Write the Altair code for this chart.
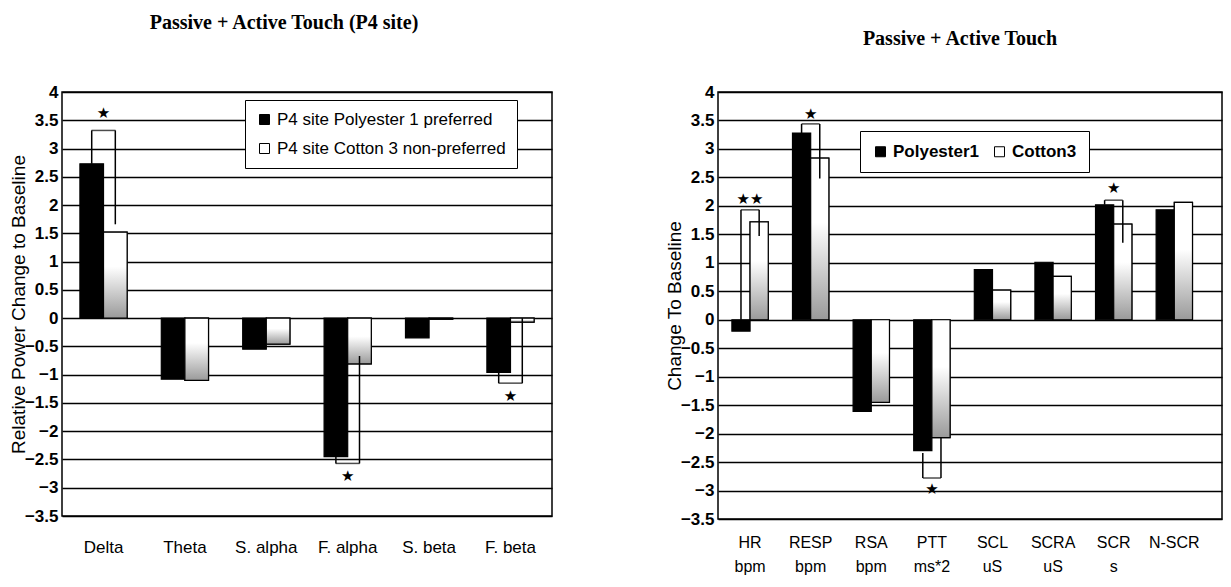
import altair as alt
import pandas as pd

# ---------------- left panel data ----------------
left_title = "Passive + Active Touch (P4 site)"
left_ytitle = "Relative Power Change to Baseline"
left_categories = ["Delta", "Theta", "S. alpha", "F. alpha", "S. beta", "F. beta"]
left_series = ["P4 site Polyester 1 preferred", "P4 site Cotton 3 non-preferred"]
left_polyester = [2.73, -1.08, -0.55, -2.45, -0.35, -0.96]
left_cotton = [1.52, -1.10, -0.46, -0.81, -0.02, -0.07]
left_sig_categories = ["Delta", "F. alpha", "F. beta"]
left_sig_level = [3.32, -2.57, -1.15]
left_sig_poly_end = [2.73, -2.45, -0.96]
left_sig_cotton_end = [1.66, -0.67, 0.0]
left_star_level = [3.62, -2.80, -1.38]
left_star_text = ["★", "★", "★"]

# ---------------- right panel data ----------------
right_title = "Passive + Active Touch"
right_ytitle = "Change To Baseline"
right_names = ["HR", "RESP", "RSA", "PTT", "SCL", "SCRA", "SCR", "N-SCR"]
right_units = ["bpm", "bpm", "bpm", "ms*2", "uS", "uS", "s", ""]
right_series = ["Polyester1", "Cotton3"]
right_polyester = [-0.20, 3.28, -1.61, -2.30, 0.88, 1.01, 2.02, 1.93]
right_cotton = [1.72, 2.84, -1.45, -2.07, 0.52, 0.76, 1.68, 2.06]
right_sig_names = ["HR", "RESP", "PTT", "SCR"]
right_sig_level = [1.93, 3.44, -2.78, 2.10]
right_sig_poly_end = [0.0, 3.28, -2.34, 2.02]
right_sig_cotton_end = [1.47, 2.48, -2.07, 1.35]
right_star_level = [2.12, 3.62, -2.98, 2.32]
right_star_text = ["★★", "★", "★", "★"]

y_ticks = [-3.5, -3, -2.5, -2, -1.5, -1, -0.5, 0, 0.5, 1, 1.5, 2, 2.5, 3, 3.5, 4]

right_categories = [n + ("\n" + u if u else "") for n, u in zip(right_names, right_units)]
right_lookup = dict(zip(right_names, right_categories))
right_sig_categories = [right_lookup[n] for n in right_sig_names]

gradient = {
    "gradient": "linear",
    "x1": 0, "y1": 0, "x2": 0, "y2": 1,
    "stops": [
        {"offset": 0, "color": "#ffffff"},
        {"offset": 0.4, "color": "#ffffff"},
        {"offset": 1, "color": "#9a9a9a"},
    ],
}


def panel(cats, series, poly, cotton, sig_cats, sig_level, sig_poly, sig_cot,
          star_level, star_text, ytitle, title, width, height, xscale, xaxis,
          legend, title_kw, bracket_size):
    n = len(cats)
    bars_df = pd.DataFrame({
        "cat": cats * 2,
        "series": [series[0]] * n + [series[1]] * n,
        "value": poly + cotton,
    })
    sig_long = pd.DataFrame({
        "cat": sig_cats * 2,
        "series": [series[0]] * len(sig_cats) + [series[1]] * len(sig_cats),
        "end": sig_poly + sig_cot,
        "level": sig_level * 2,
    })
    sig_df = pd.DataFrame({"cat": sig_cats, "level": sig_level})
    star_df = pd.DataFrame({"cat": sig_cats, "star": star_level, "text": star_text})

    x = alt.X("cat:N", sort=cats, scale=xscale, axis=xaxis, title=None)
    xo = alt.XOffset("series:N", sort=series, scale=alt.Scale(domain=series))
    yscale = alt.Scale(domain=[-3.5, 4], nice=False, zero=False)
    yaxis = alt.Axis(values=y_ticks, format="~g", grid=True, gridColor="black",
                     gridWidth=1.4, gridOpacity=1, ticks=False, domain=False,
                     labelFont="Liberation Sans", labelFontSize=17,
                     labelFontWeight="bold", labelColor="black", labelPadding=4,
                     titleFont="Liberation Sans", titleFontSize=19,
                     titleFontWeight="normal", titleColor="black", titlePadding=-4)

    def Y(field):
        return alt.Y(field, scale=yscale, axis=yaxis, title=ytitle)

    bars = alt.Chart(bars_df).mark_bar(stroke="black", strokeWidth=1.2).encode(
        x=x, xOffset=xo, y=Y("value:Q"),
        color=alt.Color("series:N", sort=series,
                        scale=alt.Scale(domain=series, range=["black", "white"]),
                        legend=legend),
    )
    overlay = alt.Chart(bars_df[bars_df["series"] == series[1]]).mark_bar(
        fill=gradient, stroke="black", strokeWidth=1.2
    ).encode(x=x, xOffset=xo, y=Y("value:Q"))
    verts = alt.Chart(sig_long).mark_rule(color="black", strokeWidth=1.5).encode(
        x=x, xOffset=xo, y=Y("end:Q"), y2="level:Q")
    horiz = alt.Chart(sig_df).mark_tick(color="black", thickness=1.5,
                                        size=bracket_size, orient="horizontal").encode(
        x=x, y=Y("level:Q"))
    stars = alt.Chart(star_df).mark_text(font="DejaVu Sans", fontSize=15,
                                         baseline="middle", color="black").encode(
        x=x, y=Y("star:Q"), text="text:N")
    return alt.layer(bars, overlay, verts, horiz, stars).properties(
        width=width, height=height,
        title=alt.TitleParams(title, font="Liberation Serif", fontSize=20,
                              fontWeight="bold", color="black", anchor="middle",
                              **title_kw),
    )


left = panel(
    left_categories, left_series, left_polyester, left_cotton,
    left_sig_categories, left_sig_level, left_sig_poly_end, left_sig_cotton_end,
    left_star_level, left_star_text, left_ytitle, left_title, 490, 424,
    alt.Scale(paddingInner=0.42, paddingOuter=0.22, align=0.5),
    alt.Axis(ticks=False, domain=False, grid=False, labelAngle=0,
             labelFont="Liberation Sans", labelFontSize=17, labelColor="black",
             labelPadding=23),
    alt.Legend(orient="none", legendX=183, legendY=8, direction="vertical",
               title=None, strokeColor="black", fillColor="white", padding=11,
               labelFont="Liberation Sans", labelFontSize=17, labelColor="black",
               symbolType="square", symbolSize=100, symbolStrokeColor="black",
               symbolStrokeWidth=1, rowPadding=11, labelLimit=400),
    {"offset": 50, "dx": -23}, 24,
)

right = panel(
    right_categories, right_series, right_polyester, right_cotton,
    right_sig_categories, right_sig_level, right_sig_poly_end, right_sig_cotton_end,
    right_star_level, right_star_text, right_ytitle, right_title, 504, 427,
    alt.Scale(paddingInner=0.4, paddingOuter=0.358, align=0.32),
    alt.Axis(ticks=False, domain=False, grid=False, labelAngle=0,
             labelFont="Liberation Sans", labelFontSize=16, labelColor="black",
             labelPadding=15, labelLineHeight=24,
             labelExpr="split(datum.label, '\\n')"),
    alt.Legend(orient="none", legendX=142, legendY=39, direction="horizontal",
               title=None, strokeColor="black", fillColor="white", padding=12,
               labelFont="Liberation Sans", labelFontSize=17, labelFontWeight="bold",
               labelColor="black", symbolType="square", symbolSize=100,
               symbolStrokeColor="black", symbolStrokeWidth=1, columnPadding=12),
    {"offset": 34, "dx": -10}, 18,
)

chart = alt.hconcat(left, right, spacing=166, bounds="flush").resolve_scale(
    x="independent", y="independent", color="independent", xOffset="independent"
).resolve_legend(color="independent").configure_view(
    stroke="black", strokeWidth=1.5
).properties(padding={"left": 0, "top": 4, "right": 0, "bottom": 0}, background="white")

chart.save("out.html", embed_options={"renderer": "svg", "actions": False})
